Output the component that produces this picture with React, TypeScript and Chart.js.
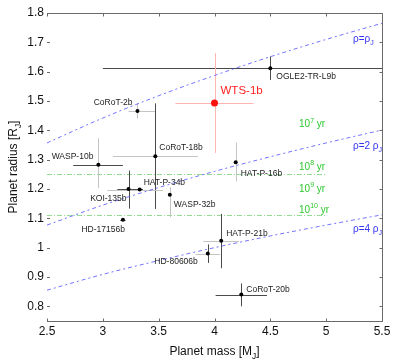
import React, { useEffect, useRef } from "react";
import { Chart, registerables } from "chart.js";

Chart.register(...registerables);

// ---------- data ----------
const planetNames = [
  "OGLE2-TR-L9b", "WTS-1b", "CoRoT-2b", "CoRoT-18b", "WASP-10b", "HAT-P-34b",
  "KOI-135b", "WASP-32b", "HD-17156b", "HAT-P-16b", "HAT-P-21b", "HD-80606b", "CoRoT-20b",
];
const planetMass = [4.50, 4.00, 3.31, 3.47, 2.96, 3.33, 3.23, 3.60, 3.18, 4.19, 4.06, 3.94, 4.24];
const planetRadius = [1.612, 1.493, 1.466, 1.312, 1.283, 1.198, 1.200, 1.180, 1.095, 1.291, 1.024, 0.980, 0.840];
const massErrLow = [1.50, 0.35, 0.08, 0.38, 0.225, 0.29, 0.10, 0.0, 0.024, 0.0, 0.16, 0.11, 0.23];
const massErrHigh = [1.50, 0.35, 0.16, 0.38, 0.22, 0.21, 0.13, 0.0, 0.024, 0.0, 0.16, 0.11, 0.23];
const radiusErrLow = [0.04, 0.17, 0.025, 0.18, 0.08, 0.0, 0.067, 0.076, 0.0, 0.065, 0.094, 0.032, 0.04];
const radiusErrHigh = [0.04, 0.17, 0.025, 0.18, 0.09, 0.0, 0.063, 0.026, 0.0, 0.067, 0.091, 0.031, 0.038];

const densityMass = [2.5, 3.0, 3.5, 4.0, 4.5, 5.0, 5.5];
const radiusRhoJ = [1.357, 1.442, 1.518, 1.587, 1.651, 1.710, 1.765];
const radius2RhoJ = [1.077, 1.145, 1.205, 1.260, 1.310, 1.357, 1.401];
const radius4RhoJ = [0.855, 0.909, 0.956, 1.000, 1.040, 1.077, 1.112];

const isochroneRadius = [1.252, 1.110];
const isochroneMassRange = [2.5, 5.0];

const xTickValues = [2.5, 3, 3.5, 4, 4.5, 5, 5.5];
const yTickValues = [0.8, 0.9, 1.0, 1.1, 1.2, 1.3, 1.4, 1.5, 1.6, 1.7, 1.8];

// ---------- styles ----------
const DARK = "#4a4a4a";
const LIGHT = "#c4c4c4";
const PINK = "#ffb4b4";
const massErrColor = [DARK, PINK, LIGHT, LIGHT, DARK, LIGHT, DARK, LIGHT, DARK, LIGHT, LIGHT, LIGHT, DARK];
const radiusErrColor = [DARK, PINK, LIGHT, DARK, LIGHT, LIGHT, DARK, LIGHT, DARK, LIGHT, DARK, DARK, DARK];
// label offset from point (px), and alignment
const labelOffset: [number, number, CanvasTextAlign][] = [
  [6, 9, "left"], [6, -12, "left"], [-5, -8, "right"], [4, -8, "left"], [-5, -8, "right"],
  [4, -7, "left"], [-2, 10, "right"], [4, 10, "left"], [2, 10, "right"], [5, 11, "left"],
  [5, -7, "left"], [-10, 8, "right"], [5, -5, "left"],
];
const FONT = "'Liberation Sans', Arial, Helvetica, sans-serif";
const GREEN = "#2fc82f";
const BLUE = "#3535f0";
const CURVE = "rgba(80,80,255,0.8)";

type Seg = { t: string; sup?: boolean; sub?: boolean };

function drawRich(ctx: CanvasRenderingContext2D, segs: Seg[], x: number, y: number, size: number, align: "left" | "center") {
  const widths = segs.map((s) => {
    ctx.font = `${s.sup || s.sub ? size * 0.7 : size}px ${FONT}`;
    return ctx.measureText(s.t).width;
  });
  const total = widths.reduce((a, b) => a + b, 0);
  let cx = align === "center" ? x - total / 2 : x;
  ctx.textAlign = "left";
  ctx.textBaseline = "alphabetic";
  segs.forEach((s, i) => {
    ctx.font = `${s.sup || s.sub ? size * 0.7 : size}px ${FONT}`;
    const dy = s.sup ? -size * 0.42 : s.sub ? size * 0.3 : 0;
    ctx.fillText(s.t, cx, y + dy);
    cx += widths[i];
  });
}

const decorPlugin = {
  id: "decor",
  beforeDatasetsDraw(chart: any) {
    const { ctx, chartArea, scales } = chart;
    const x = scales.x, y = scales.y;
    ctx.save();
    ctx.beginPath();
    ctx.rect(chartArea.left, chartArea.top, chartArea.right - chartArea.left, chartArea.bottom - chartArea.top);
    ctx.clip();
    // isochrone lines
    ctx.strokeStyle = "rgba(120,210,120,0.8)";
    ctx.lineWidth = 1;
    ctx.setLineDash([5, 2, 1, 2]);
    isochroneRadius.forEach((r) => {
      const py = Math.round(y.getPixelForValue(r)) + 0.5;
      ctx.beginPath();
      ctx.moveTo(x.getPixelForValue(isochroneMassRange[0]), py);
      ctx.lineTo(x.getPixelForValue(isochroneMassRange[1]), py);
      ctx.stroke();
    });
    ctx.setLineDash([]);
    // error bars
    planetMass.forEach((m, i) => {
      const px = x.getPixelForValue(m);
      const py = y.getPixelForValue(planetRadius[i]);
      if (massErrLow[i] + massErrHigh[i] > 0) {
        ctx.strokeStyle = massErrColor[i];
        const yy = Math.round(py) + 0.5;
        ctx.beginPath();
        ctx.moveTo(x.getPixelForValue(m - massErrLow[i]), yy);
        ctx.lineTo(x.getPixelForValue(m + massErrHigh[i]), yy);
        ctx.stroke();
      }
      if (radiusErrLow[i] + radiusErrHigh[i] > 0) {
        ctx.strokeStyle = radiusErrColor[i];
        const xx = Math.round(px) + 0.5;
        ctx.beginPath();
        ctx.moveTo(xx, y.getPixelForValue(planetRadius[i] - radiusErrLow[i]));
        ctx.lineTo(xx, y.getPixelForValue(planetRadius[i] + radiusErrHigh[i]));
        ctx.stroke();
      }
    });
    ctx.restore();
  },
  afterDatasetsDraw(chart: any) {
    const { ctx, scales } = chart;
    const x = scales.x, y = scales.y;
    ctx.save();
    ctx.textBaseline = "middle";
    planetNames.forEach((name, i) => {
      const px = x.getPixelForValue(planetMass[i]);
      const py = y.getPixelForValue(planetRadius[i]);
      const [dx, dy, al] = labelOffset[i];
      const isWts = name === "WTS-1b";
      ctx.font = `${isWts ? 11.5 : 8.5}px ${FONT}`;
      ctx.fillStyle = isWts ? "#ff1f1f" : "#222";
      ctx.textAlign = al;
      ctx.fillText(name, px + dx, py + dy);
    });
    // annotations: isochrone ages
    ctx.fillStyle = GREEN;
    const ageMass = 4.757;
    const ages: [string, number][] = [["7", 1.424], ["8", 1.28], ["9", 1.205], ["10", 1.133]];
    ages.forEach(([e, r]) => {
      drawRich(ctx, [{ t: "10" }, { t: e, sup: true }, { t: " yr" }], x.getPixelForValue(ageMass), y.getPixelForValue(r) + 4, 10, "left");
    });
    ctx.fillStyle = BLUE;
    const rhoMass = 5.24;
    drawRich(ctx, [{ t: "ρ=ρ" }, { t: "J", sub: true }], x.getPixelForValue(rhoMass), y.getPixelForValue(1.71) + 3, 10, "left");
    drawRich(ctx, [{ t: "ρ=2 ρ" }, { t: "J", sub: true }], x.getPixelForValue(rhoMass), y.getPixelForValue(1.348) + 3, 10, "left");
    drawRich(ctx, [{ t: "ρ=4 ρ" }, { t: "J", sub: true }], x.getPixelForValue(rhoMass), y.getPixelForValue(1.065) + 3, 10, "left");
    ctx.restore();
  },
  afterDraw(chart: any) {
    const { ctx, chartArea, scales } = chart;
    const x = scales.x, y = scales.y;
    const L = chartArea.left, R = Math.round(chartArea.right) + 0.5, T = Math.round(chartArea.top) + 0.5, B = Math.round(chartArea.bottom) + 0.5;
    ctx.save();
    ctx.strokeStyle = "#6a6a6a";
    ctx.lineWidth = 1;
    ctx.beginPath();
    ctx.moveTo(L, T); ctx.lineTo(R, T); ctx.lineTo(R, B); ctx.lineTo(L, B);
    ctx.stroke();
    const tl = 3;
    ctx.beginPath();
    xTickValues.forEach((v) => {
      const px = Math.round(x.getPixelForValue(v)) + 0.5;
      ctx.moveTo(px, T); ctx.lineTo(px, T + tl);
      ctx.moveTo(px, B); ctx.lineTo(px, B - tl);
    });
    yTickValues.forEach((v) => {
      const py = Math.round(y.getPixelForValue(v)) + 0.5;
      ctx.moveTo(L, py); ctx.lineTo(L + tl, py);
      ctx.moveTo(R, py); ctx.lineTo(R - tl, py);
    });
    ctx.stroke();
    // axis titles
    ctx.fillStyle = "#111";
    drawRich(ctx, [{ t: "Planet mass [M" }, { t: "J", sub: true }, { t: "]" }], (chartArea.left + chartArea.right) / 2, 355, 12, "center");
    ctx.save();
    ctx.translate(17, (chartArea.top + chartArea.bottom) / 2);
    ctx.rotate(-Math.PI / 2);
    drawRich(ctx, [{ t: "Planet radius [R" }, { t: "J", sub: true }, { t: "]" }], 0, 0, 12, "center");
    ctx.restore();
    ctx.restore();
  },
};

function fmt(v: number) {
  return String(Number(v.toFixed(2)));
}

export default function App() {
  const ref = useRef<HTMLCanvasElement | null>(null);
  useEffect(() => {
    document.body.style.margin = "0";
    const canvas = ref.current!;
    const curveDs = (data: number[]) => ({
      type: "line" as const,
      data: densityMass.map((m, i) => ({ x: m, y: data[i] })),
      showLine: true,
      borderColor: CURVE,
      borderWidth: 1,
      borderDash: [4, 3, 2, 3],
      pointRadius: 0,
      cubicInterpolationMode: "monotone" as const,
      fill: false,
    });
    const chart = new Chart(canvas, {
      type: "scatter",
      data: {
        datasets: [
          {
            data: planetMass.map((m, i) => ({ x: m, y: planetRadius[i] })),
            pointBackgroundColor: planetNames.map((n) => (n === "WTS-1b" ? "#ff1010" : "#000")),
            pointBorderColor: planetNames.map((n) => (n === "WTS-1b" ? "#ff1010" : "#000")),
            pointRadius: planetNames.map((n) => (n === "WTS-1b" ? 3.5 : 2)),
            pointBorderWidth: 0,
          } as any,
          curveDs(radiusRhoJ) as any,
          curveDs(radius2RhoJ) as any,
          curveDs(radius4RhoJ) as any,
        ],
      },
      options: {
        animation: false,
        responsive: false,
        devicePixelRatio: 1,
        layout: { padding: { left: 0, right: 25, top: 13, bottom: 0 } },
        plugins: { legend: { display: false }, tooltip: { enabled: false } },
        scales: {
          x: {
            type: "linear",
            min: 2.5,
            max: 5.5,
            grid: { display: false, drawTicks: false },
            border: { display: false },
            afterBuildTicks: (s: any) => { s.ticks = xTickValues.map((v) => ({ value: v })); },
            afterFit: (s: any) => { s.height = 42; },
            ticks: { color: "#111", font: { family: FONT, size: 12 }, padding: 3, maxRotation: 0, autoSkip: false, callback: (v: any) => fmt(Number(v)) },
          },
          y: {
            type: "linear",
            min: 0.75,
            max: 1.8,
            grid: { display: false, drawTicks: false },
            border: { display: false },
            afterBuildTicks: (s: any) => { s.ticks = yTickValues.map((v) => ({ value: v })); },
            afterFit: (s: any) => { s.width = 47; },
            ticks: { color: "#111", font: { family: FONT, size: 12 }, padding: 3, autoSkip: false, callback: (v: any) => fmt(Number(v)) },
          },
        },
      },
      plugins: [decorPlugin],
    });
    return () => chart.destroy();
  }, []);
  return (
    <div style={{ width: 407, height: 363, background: "#fff" }}>
      <canvas ref={ref} width={407} height={363} style={{ display: "block" }} />
    </div>
  );
}
